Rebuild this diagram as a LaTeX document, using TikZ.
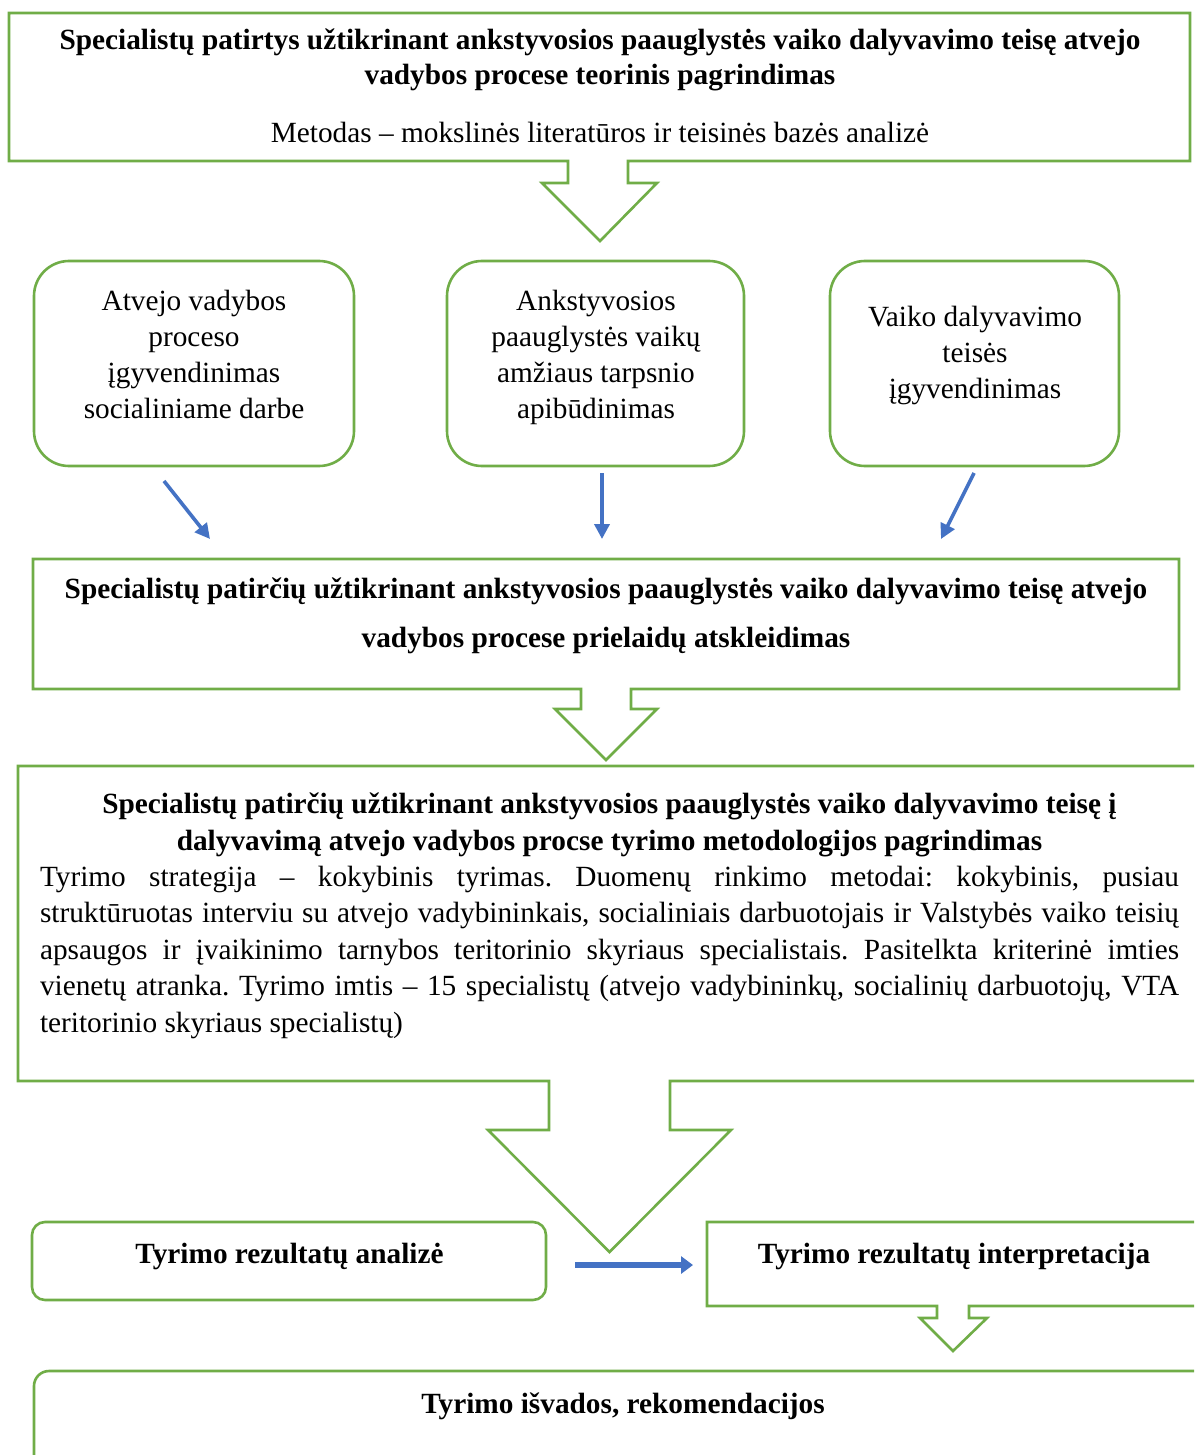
\documentclass[tikz,border=0pt]{standalone}
\usepackage{fontspec}
\setmainfont{Liberation Serif}
\usetikzlibrary{arrows.meta}
\definecolor{grn}{HTML}{70AD47}
\definecolor{blu}{HTML}{4472C4}
\begin{document}
\begin{tikzpicture}[x=1pt,y=-1pt,
  gline/.style={draw=grn,line width=2.6pt,line join=miter},
  rbox/.style={draw=grn,line width=2.6pt,inner sep=0pt,outer sep=0pt},
  txt/.style={inner sep=0pt,outer sep=0pt,align=center,font=\fontsize{29.3}{36}\selectfont},
  btxt/.style={txt,font=\fontsize{29.3}{36}\selectfont\bfseries},
  barrow/.style={draw=blu,line width=3.6pt,-{Triangle[length=15pt,width=15pt]}},
  harrow/.style={draw=blu,line width=5.5pt,-{Triangle[length=12pt,width=17pt]}}]
\useasboundingbox (0,0) rectangle (1194,1455);
\fill[white] (0,0) rectangle (1194,1455);
\begin{scope}
\clip (0,0) rectangle (1194,1455);
% top callout
\draw[gline] (9,13) -- (1190,13) -- (1190,161) -- (628,161) -- (628,183) -- (657,183) -- (600,241) -- (542,183) -- (568,183) -- (568,161) -- (9,161) -- cycle;
\node[btxt,anchor=base] (t1) at (600,85) {Specialistų patirtys užtikrinant ankstyvosios paauglystės vaiko dalyvavimo teisę atvejo\\[-1pt]vadybos procese teorinis pagrindimas};
\node[txt,anchor=base] (t1b) at (600,143) {Metodas – mokslinės literatūros ir teisinės bazės analizė};
% three rounded boxes
\node[rbox,rounded corners=35pt,minimum width=320pt,minimum height=205pt] (boxA) at (194,363.5) {};
\node[rbox,rounded corners=35pt,minimum width=297pt,minimum height=205pt] (boxB) at (595.5,363.5) {};
\node[rbox,rounded corners=35pt,minimum width=289pt,minimum height=205pt] (boxC) at (974.5,363.5) {};
\node[txt,anchor=base] (tA) at (194,418) {Atvejo vadybos\\proceso\\įgyvendinimas\\socialiniame darbe};
\node[txt,anchor=base] (tB) at (596,418) {Ankstyvosios\\paauglystės vaikų\\amžiaus tarpsnio\\apibūdinimas};
\node[txt,anchor=base] (tC) at (975,398) {Vaiko dalyvavimo\\teisės\\įgyvendinimas};
% blue arrows
\coordinate (a1s) at (164,481); \coordinate (a1e) at (210,539);
\coordinate (a2s) at (602,473); \coordinate (a2e) at (602,539);
\coordinate (a3s) at (974,473); \coordinate (a3e) at (941,539);
\draw[barrow] (a1s) -- (a1e);
\draw[barrow] (a2s) -- (a2e);
\draw[barrow] (a3s) -- (a3e);
% second callout
\draw[gline] (33,559) -- (1179,559) -- (1179,689) -- (631,689) -- (631,709) -- (657,709) -- (606,760) -- (555,709) -- (581,709) -- (581,689) -- (33,689) -- cycle;
\node[btxt,anchor=base,font=\fontsize{29.3}{49}\selectfont\bfseries] (t2) at (606,647) {Specialistų patirčių užtikrinant ankstyvosios paauglystės vaiko dalyvavimo teisę atvejo\\vadybos procese prielaidų atskleidimas};
% third callout
\draw[gline] (1220,766) -- (18,766) -- (18,1081) -- (549,1081) -- (549,1130) -- (488,1130) -- (609.5,1252) -- (731,1130) -- (670,1130) -- (670,1081) -- (1220,1081);
\node[btxt,anchor=base,font=\fontsize{29.3}{37}\selectfont\bfseries] (t3) at (609.5,850) {Specialistų patirčių užtikrinant ankstyvosios paauglystės vaiko dalyvavimo teisę į\\dalyvavimą atvejo vadybos procse tyrimo metodologijos pagrindimas};
\node[txt,anchor=base west,align=left,text width=1139pt,font=\fontsize{29.3}{36.5}\selectfont] (t3b) at (40,886) {\frenchspacing\spaceskip=0pt\xspaceskip=0pt%
\makebox[1139pt][s]{Tyrimo strategija – kokybinis tyrimas. Duomenų rinkimo metodai: kokybinis, pusiau}\\
\makebox[1139pt][s]{struktūruotas interviu su atvejo vadybininkais, socialiniais darbuotojais ir Valstybės vaiko teisių}\\
\makebox[1139pt][s]{apsaugos ir įvaikinimo tarnybos teritorinio skyriaus specialistais. Pasitelkta kriterinė imties}\\
\makebox[1139pt][s]{vienetų atranka. Tyrimo imtis – 15 specialistų (atvejo vadybininkų, socialinių darbuotojų, VTA}\\
teritorinio skyriaus specialistų)};
% bottom left rounded box
\node[rbox,rounded corners=13pt,minimum width=514pt,minimum height=78pt] (boxD) at (289,1261) {};
\node[btxt,anchor=base] (tD) at (289.5,1263) {Tyrimo rezultatų analizė};
% interpretacija callout
\draw[gline] (1220,1222) -- (707,1222) -- (707,1306) -- (937,1306) -- (937,1318) -- (920,1318) -- (953,1351) -- (987,1318) -- (969,1318) -- (969,1306) -- (1220,1306);
\node[btxt,anchor=base] (tE) at (954,1263) {Tyrimo rezultatų interpretacija};
\coordinate (h1s) at (575,1265); \coordinate (h1e) at (693,1265);
\draw[harrow] (h1s) -- (h1e);
% bottom box
\draw[gline,rounded corners=15pt] (34,1480) -- (34,1371) -- (1230,1371) -- (1230,1480);
\node[btxt,anchor=base] (tF) at (623,1413) {Tyrimo išvados, rekomendacijos};
\end{scope}
\end{tikzpicture}
\end{document}
